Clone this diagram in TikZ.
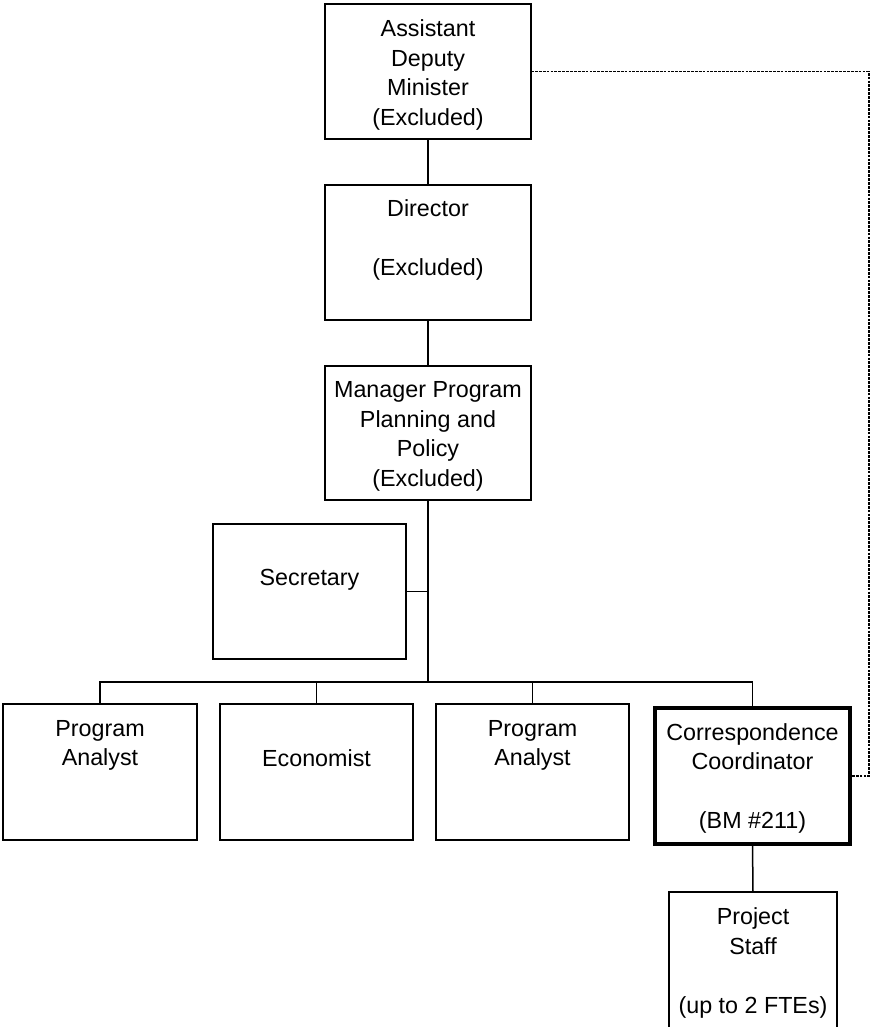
\documentclass[tikz,border=0pt]{standalone}
\usepackage{fontspec}
\setmainfont{Liberation Sans}
\begin{document}
\begin{tikzpicture}[x=1pt,y=-1pt,
  box/.style={draw, line width=1.6pt, inner sep=0pt, outer sep=0pt, anchor=north west},
  thickbox/.style={box, line width=4.2pt},
  lbl/.style={anchor=north, align=center, inner sep=0pt, font=\fontsize{23.3}{29.5}\selectfont},
  conn/.style={line width=1.5pt},
  trunk/.style={line width=2.6pt},
  dotline/.style={line width=1.9pt, dash pattern=on 2.8pt off 1.1pt}]
\clip (0,0) rectangle (871,1027);
% boxes
\node[box, minimum width=206pt, minimum height=135pt] (adm) at (325,4) {};
\node[box, minimum width=206pt, minimum height=135pt] (dir) at (325,185) {};
\node[box, minimum width=206pt, minimum height=134pt] (mgr) at (325,366) {};
\node[box, minimum width=193pt, minimum height=135pt] (sec) at (213,524) {};
\node[box, minimum width=194pt, minimum height=136pt] (pa1) at (3,704) {};
\node[box, minimum width=193pt, minimum height=136pt] (eco) at (220,704) {};
\node[box, minimum width=193pt, minimum height=136pt] (pa2) at (436,704) {};
\node[thickbox, minimum width=195pt, minimum height=136pt] (cc) at (655,708) {};
\node[box, minimum width=168pt, minimum height=150pt] (ps) at (669,892) {};
% labels
\node[lbl] (adm-t) at ([yshift=-12pt]adm.north) {\strut Assistant\\Deputy\\Minister\\(Excluded)};
\node[lbl] (dir-t) at ([yshift=-11pt]dir.north) {\strut Director\\\strut\\(Excluded)};
\node[lbl] (mgr-t) at ([yshift=-11pt]mgr.north) {\strut Manager Program\\Planning and\\Policy\\(Excluded)};
\node[lbl] (sec-t) at ([yshift=-11pt]sec.north) {\strut\\Secretary};
\node[lbl] (pa1-t) at ([yshift=-11.5pt]pa1.north) {\strut Program\\Analyst};
\node[lbl] (eco-t) at ([yshift=-12pt]eco.north) {\strut\\Economist};
\node[lbl] (pa2-t) at ([yshift=-11.5pt]pa2.north) {\strut Program\\Analyst};
\node[lbl] (cc-t) at ([yshift=-11.5pt]cc.north) {\strut Correspondence\\Coordinator\\\strut\\(BM \#211)};
\node[lbl] (ps-t) at ([yshift=-12pt]ps.north) {\strut Project\\Staff\\\strut\\(up to 2 FTEs)};
% connectors
\coordinate (bus) at (428,682);
\coordinate (dr) at (869,0);
\coordinate (sj) at (mgr.south |- sec.east);
\draw[conn] (adm.south) -- (dir.north);
\draw[conn] (dir.south) -- (mgr.north);
\draw[trunk] (mgr.south) -- (sj);
\draw[conn] (sec.east) -- (sj) -- (bus);
\draw[conn] (pa1.north) -- (pa1.north |- bus) -- (cc.north |- bus) -- (cc.north);
\draw[conn] (eco.north) -- (eco.north |- bus);
\draw[conn] (pa2.north) -- (pa2.north |- bus);
\draw[conn] (cc.south) -- (ps.north);
\draw[dotline] (adm.east) -- (adm.east -| dr) -- (cc.east -| dr) -- (cc.east);
\end{tikzpicture}
\end{document}
